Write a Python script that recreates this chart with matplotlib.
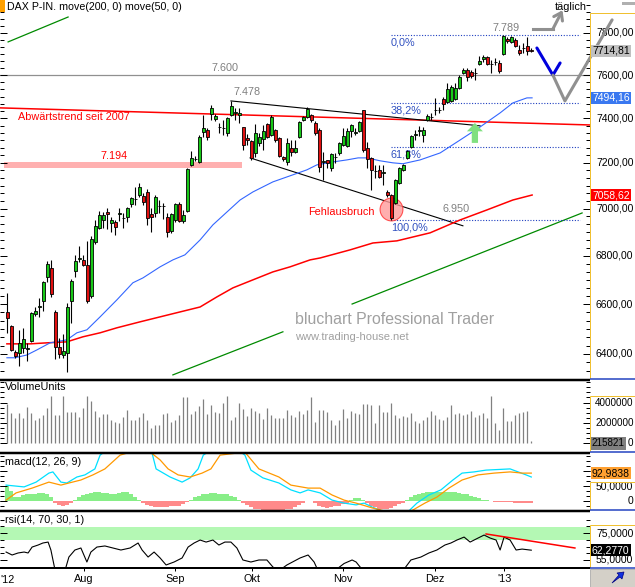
import numpy as np
import matplotlib
matplotlib.use("Agg")
import matplotlib.pyplot as plt
from matplotlib.lines import Line2D
from matplotlib.patches import Rectangle, Polygon
from matplotlib.ticker import FixedLocator, NullFormatter
import matplotlib.transforms as mtransforms

plt.rcParams['font.family'] = ['Liberation Sans', 'DejaVu Sans']

# ---------------- data ----------------
opens = [6568, 6512, 6408, 6404, 6424, 6420, 6452, 6560, 6586, 6613,
         6712, 6748, 6568, 6428, 6396, 6404, 6613, 6736, 6784, 6782,
         6761, 6633, 6858, 6917, 6951, 6985, 6939, 6943, 6975, 6960,
         6964, 7020, 7040, 7059, 7055, 7072, 6977, 6981, 7010, 7012,
         6964, 6904, 6951, 7020, 6947, 6990, 7191, 7216, 7204, 7338,
         7347, 7421, 7397, 7360, 7355, 7334, 7416, 7425, 7416, 7361,
         7311, 7298, 7244, 7289, 7307, 7375, 7325, 7347, 7311, 7226,
         7204, 7267, 7249, 7316, 7393, 7407, 7416, 7380, 7347, 7204,
         7213, 7178, 7226, 7244, 7280, 7275, 7343, 7334, 7343, 7439,
         7267, 7222, 7164, 7169, 7156, 7072, 7059, 7024, 7112, 7169,
         7222, 7271, 7325, 7343, 7325, 7393, 7405, 7437, 7440, 7490,
         7476, 7480, 7490, 7540, 7610, 7624, 7614, 7610, 7652, 7676,
         7685, 7652, 7662, 7657, 7700, 7772, 7757, 7767, 7719, 7728,
         7738, 7720]
highs = [6646, 6516, 6416, 6496, 6504, 6444, 6568, 6588, 6625, 6695,
         6778, 6782, 6576, 6464, 6480, 6604, 6703, 6803, 6841, 6803,
         6862, 6883, 6951, 6990, 6985, 7003, 6964, 6951, 7003, 6981,
         7007, 7050, 7094, 7112, 7068, 7085, 7003, 7059, 7037, 7024,
         6981, 6981, 7024, 7028, 6994, 7178, 7253, 7231, 7325, 7416,
         7357, 7462, 7421, 7380, 7393, 7407, 7478, 7448, 7448, 7361,
         7329, 7302, 7375, 7334, 7370, 7380, 7416, 7352, 7316, 7231,
         7311, 7302, 7302, 7388, 7411, 7453, 7421, 7388, 7357, 7249,
         7213, 7244, 7244, 7293, 7357, 7357, 7375, 7357, 7388, 7439,
         7293, 7226, 7191, 7191, 7191, 7081, 7063, 7129, 7182, 7196,
         7257, 7325, 7347, 7366, 7361, 7421, 7425, 7494, 7453, 7499,
         7564, 7554, 7564, 7600, 7633, 7633, 7624, 7633, 7690, 7695,
         7690, 7671, 7680, 7671, 7789, 7781, 7785, 7776, 7743, 7752,
         7781, 7728]
lows = [6484, 6412, 6385, 6353, 6404, 6373, 6448, 6552, 6548, 6572,
        6691, 6629, 6381, 6385, 6385, 6330, 6524, 6712, 6774, 6757,
        6604, 6625, 6849, 6913, 6917, 6913, 6900, 6887, 6947, 6917,
        6943, 7007, 7016, 7050, 7016, 6930, 6900, 6964, 6981, 6956,
        6879, 6896, 6943, 6943, 6939, 6985, 7187, 7209, 7200, 7316,
        7302, 7393, 7388, 7334, 7325, 7320, 7411, 7393, 7380, 7257,
        7280, 7213, 7226, 7275, 7257, 7311, 7320, 7293, 7226, 7209,
        7191, 7231, 7244, 7311, 7388, 7402, 7384, 7325, 7160, 7125,
        7178, 7165, 7200, 7235, 7275, 7271, 7316, 7325, 7338, 7249,
        7178, 7081, 7134, 7134, 7103, 7050, 6951, 7020, 7107, 7165,
        7218, 7266, 7302, 7320, 7293, 7388, 7393, 7416, 7425, 7439,
        7471, 7476, 7485, 7536, 7605, 7573, 7587, 7577, 7647, 7662,
        7647, 7610, 7647, 7610, 7695, 7752, 7752, 7733, 7695, 7704,
        7695, 7709]
closes = [6544, 6416, 6392, 6444, 6460, 6422, 6564, 6572, 6590, 6691,
          6765, 6642, 6428, 6400, 6412, 6588, 6695, 6778, 6788, 6761,
          6613, 6870, 6926, 6972, 6972, 6977, 6951, 6921, 6979, 6958,
          7003, 7046, 7042, 7094, 7028, 6960, 6964, 7050, 7012, 7010,
          6900, 6977, 7020, 6947, 6972, 7173, 7222, 7218, 7316, 7357,
          7316, 7448, 7411, 7362, 7358, 7402, 7457, 7427, 7425, 7280,
          7302, 7222, 7334, 7316, 7343, 7316, 7407, 7302, 7231, 7218,
          7289, 7249, 7267, 7384, 7407, 7443, 7393, 7334, 7182, 7206,
          7200, 7240, 7228, 7289, 7320, 7343, 7370, 7336, 7384, 7257,
          7218, 7169, 7166, 7138, 7158, 7059, 6960, 7125, 7178, 7191,
          7253, 7320, 7329, 7345, 7347, 7411, 7408, 7440, 7437, 7467,
          7536, 7545, 7540, 7591, 7624, 7591, 7596, 7608, 7666, 7685,
          7652, 7650, 7660, 7619, 7786, 7762, 7781, 7738, 7704, 7726,
          7714, 7714.81]

# moving averages (index, value)
ma50_x = [-0.1, 1.9, 4.9, 7.4, 10.7, 14.9, 17.4, 19.9, 23.2, 27.4, 31.4, 33.9, 38.2,
          41.4, 44.4, 48.2, 51.4, 54.9, 58.2, 61.4, 66.4, 71.4, 74.9, 77.4, 81.4,
          84.9, 87.7, 89.9, 93.2, 96.4, 98.9, 103.2, 108.2, 113.2, 118.2, 123.2,
          126.4, 129.9, 131.2]
ma50_y = [6385, 6385, 6396, 6416, 6444, 6456, 6484, 6496, 6548, 6617, 6687, 6707, 6753,
          6782, 6803, 6866, 6930, 6985, 7037, 7072, 7116, 7147, 7169, 7191, 7204,
          7213, 7222, 7222, 7209, 7200, 7196, 7213, 7244, 7302, 7361, 7425,
          7471, 7494, 7494.16]
ma200_x = [-0.1, 5.7, 9.9, 14.9, 18.9, 23.2, 27.4, 33.2, 38.2, 43.2, 48.2, 52.4, 56.4,
           61.4, 66.4, 70.7, 75.7, 78.2, 85.7, 91.4, 97.4, 105.7, 113.2, 119.9,
           126.4, 131.2]
ma200_y = [6440, 6440, 6444, 6448, 6468, 6484, 6504, 6528, 6548, 6568, 6588, 6629, 6666,
           6699, 6732, 6753, 6782, 6790, 6824, 6853, 6862, 6896, 6951, 6994,
           7037, 7058.62]

volume_m = [3.9, 3.0, 2.5, 3.0, 2.5, 3.6, 3.0, 2.3, 2.5, 2.75,
            3.5, 4.6, 2.8, 2.75, 4.6, 3.1, 3.05, 3.1, 2.6, 3.5,
            4.6, 4.1, 3.2, 2.6, 2.9, 2.9, 2.3, 2.1, 2.0, 2.6,
            3.3, 2.3, 2.3, 2.6, 3.0, 2.3, 1.5, 1.8, 1.8, 2.9,
            3.0, 2.1, 2.3, 2.75, 4.5, 4.5, 2.9, 3.2, 3.7, 4.3,
            2.9, 3.8, 3.05, 3.0, 4.0, 4.6, 2.3, 2.6, 4.0, 3.4,
            2.7, 3.5, 3.2, 3.0, 2.4, 3.5, 2.8, 2.5, 2.5, 2.5, 3.3,
            2.8, 2.6, 3.2, 2.9, 3.3, 4.5, 2.1, 3.3, 3.3, 3.05,
            2.3, 1.8, 2.3, 3.4, 2.5, 3.2, 3.0, 2.9, 3.9, 3.9,
            3.8, 2.0, 3.8, 3.05, 3.05, 4.0, 2.8, 2.5, 2.65, 2.6,
            3.0, 2.2, 2.0, 2.3, 2.6, 3.2, 2.75, 2.4, 2.3, 2.6, 3.8,
            2.9, 3.0, 2.8, 2.9, 3.2, 2.6, 2.75, 3.0, 2.5, 4.6,
            2.0, 1.3, 3.5, 2.2, 2.2, 2.8, 3.0, 3.1, 3.15, 0.215821]

macd_x = [-0.3, 4.2, 7.2, 10.4, 11.4, 13.4, 14.9, 17.4, 19.4, 21.9,
          23.2, 28, 35.7, 37.2, 40.7, 43.7, 45.7, 47.7, 49, 54.4,
          59.4, 60.9, 63.9, 67.9, 70.9, 73.2, 75.2, 78.2, 81.2, 84.2,
          87.2, 89.2, 91.2, 94.4, 98.2, 100.4, 102.4, 105.4, 108.4, 111.4,
          113.7, 116.7, 119.7, 125.7, 129.7, 131]
macd_v = [53, 47, 63, 93, 97, 63, 60, 80, 87, 107,
          153, 200, 185, 107, 80, 63, 77, 107, 153, 200,
          153, 103, 77, 60, 37, 27, 37, 27, 3, -7,
          -13, -7, -20, -37, -57, -33, -7, 20, 37, 70,
          93, 97, 103, 107, 87, 80]
signal_x = [-0.3, 2.2, 6.2, 10.4, 13.4, 15.4, 18.4, 21.4, 24.4, 28.2,
            34.4, 38.2, 40.2, 42.7, 45.7, 48.7, 50.9, 53.2, 59.4, 62.9,
            67.9, 70.9, 75.2, 78.2, 81.2, 84.2, 87.2, 91.2, 95.4, 98.2,
            101.4, 104.4, 107.4, 110.4, 113.7, 117.7, 121.7, 125.7, 128.7, 131]
signal_v = [3, 27, 43, 63, 53, 60, 70, 87, 107, 153,
            177, 137, 107, 87, 80, 93, 107, 153, 163, 107,
            80, 53, 43, 43, 20, 3, -7, -23, -37, -47,
            -30, -7, 13, 43, 70, 87, 93, 97, 93, 92.9838]
macd_hist = [50, 35, 15, 12, 20, 23, 25, 25, 27, 28, 25, 15,
             -5, -13, -15, -12, -5,
             5, 12, 20, 25, 28, 30, 30, 28, 27, 25, 25, 27, 30, 30, 25, 15, 5,
             -5, -12, -18, -20, -20, -20, -20, -18, -18, -15, -10, -3,
             5, 12, 18, 22, 25, 27, 27, 25, 25, 22, 18, 12, 5,
             -5, -12, -20, -25, -28, -30, -30, -30, -30, -30, -30, -28, -25, -20, -12, -5,
             1, -1,
             -8, -15, -20, -22, -20, -18, -15, -10, -5,
             5, 10, 10, 5,
             -8, -15, -20, -25, -25, -25, -22, -18, -10, -5,
             5, 12, 20, 25, 28, 30, 30, 30, 30, 30, 30, 30, 30, 28, 25, 22, 18, 15, 10, 5, 3, 1,
             -2, -3, -3, -2, -3, -5, -7, -8, -8, -7]

rsi_x = [-0.3, 1.2, 2.7, 4.2, 5.2, 6.2, 7.7, 8.9, 10.2, 10.9,
         11.9, 14.4, 15.4, 16.9, 18.4, 19.9, 20.9, 22.4, 24.4, 26.4,
         28.4, 30.7, 32.7, 33.7, 35.2, 36.7, 38.2, 39.7, 41.7, 43.7,
         45.2, 46.7, 48.2, 49.7, 51.4, 52.9, 54.4, 55.9, 57.4, 58.9,
         60.9, 62.9, 64.9, 66.4, 67.9, 69.9, 73.2, 75.2, 76.7, 77.7,
         80.7, 82.7, 84.2, 86.2, 87.2, 88.2, 90.2, 95.7, 99.4, 100.9,
         103.4, 105.4, 107.4, 109.4, 110.9, 112.4, 114.2, 115.7, 117.7, 119.2,
         120.7, 122.2, 123.2, 124.2, 125.7, 127.2, 128.7, 131]
rsi_v = [60.9, 58.7, 60.2, 60.9, 60.2, 64.6, 66.1, 67.6, 68.3, 62.4,
         48, 47, 57.2, 62.4, 63.9, 53.5, 60.9, 64.6, 65.4, 63.9,
         62.4, 63.9, 67.6, 62.4, 57.2, 60.9, 56.5, 51.3, 53.5, 56.5,
         64.6, 67.6, 69.8, 68.3, 69.8, 66.1, 68.3, 68.3, 63.9, 55,
         53.5, 55, 55, 49.8, 47, 51.3, 56.5, 58.7, 53.5, 47,
         46, 49, 52.4, 55, 53.5, 49.8, 45, 42, 49, 55,
         57.2, 60.2, 62.4, 66.1, 67.6, 69.8, 72, 68.3, 71.3, 73.5,
         71.3, 69.8, 62.4, 72, 69.8, 62.4, 63.1, 62.277]

price_ticks = [6400, 6600, 6800, 7000, 7200, 7400, 7600, 7800]
month_labels = ["Aug", "Sep", "Okt", "Nov", "Dez", "'13"]
month_pos = [19.2, 41.9, 61.2, 83.9, 106.9, 124.2]

fib_high, fib_low = 7789, 6950
fib_pcts = [0.0, 38.2, 61.8, 100.0]

# ---------------- layout helpers ----------------
W, H = 635, 587
PLOT_R = 590
FS = 7.8
RFS = 7.5
XLIM = (-1.825, 145.675)

fig = plt.figure(figsize=(W / 100, H / 100), dpi=100)
fig.patch.set_facecolor('white')


def axes_px(top, bottom):
    return fig.add_axes([0, 1 - bottom / H, PLOT_R / W, (bottom - top) / H])


def fline(x0, y0, x1, y1, color, lw):
    fig.add_artist(Line2D([x0 / W, x1 / W], [1 - y0 / H, 1 - y1 / H], color=color,
                          lw=lw * 0.72, solid_capstyle='butt'))


def ftext(x, y, s, **kw):
    fig.text(x / W, 1 - y / H, s, **kw)


def style_ax(ax, ylim, major, minor, log=False):
    if log:
        ax.set_yscale('log')
    ax.set_xlim(*XLIM)
    ax.set_ylim(*ylim)
    for s in ax.spines.values():
        s.set_visible(False)
    ax.set_xticks([])
    ax.xaxis.set_minor_locator(FixedLocator([]))
    ax.yaxis.set_major_locator(FixedLocator(major))
    ax.yaxis.set_minor_locator(FixedLocator(minor))
    ax.yaxis.set_major_formatter(NullFormatter())
    ax.yaxis.set_minor_formatter(NullFormatter())
    ax.tick_params(axis='y', which='both', direction='in', left=True, right=True,
                   color='black', width=0.72)
    ax.tick_params(axis='y', which='major', length=5)
    ax.tick_params(axis='y', which='minor', length=3)
    ax.patch.set_alpha(0)


def rlabel(ax, v, s, box=None, tc='black', x=596, fs=RFS):
    tr = mtransforms.blended_transform_factory(ax.transAxes, ax.transData)
    if box is None:
        ax.text(x / PLOT_R, v, s, transform=tr, ha='left', va='center', fontsize=fs,
                color=tc, clip_on=False)
    else:
        ax.text(592 / PLOT_R, v, s, transform=tr, ha='left', va='center', fontsize=fs,
                color=tc, clip_on=False, zorder=10,
                bbox=dict(boxstyle='square,pad=0.12', fc=box, ec='none'))


def fmt(v, d):
    return f"{v:.{d}f}".replace('.', ',')


idx = np.arange(len(opens))
o, h, l, c = (np.array(a, float) for a in (opens, highs, lows, closes))

# ---------------- main price panel ----------------
ax = axes_px(0, 379)
minor_p = list(np.arange(6300, 7960, 200 / 6))
style_ax(ax, (6302, 7960), price_ticks, minor_p, log=True)

# horizontal 7600 line
ax.axhline(7600, color='#909090', lw=0.9, zorder=1)
ax.text(54.4, 7600 * 1.0015, "7.600", color='#808080', fontsize=FS, ha='center', va='bottom')

# 7194 zone
ax.add_patch(Rectangle((-0.8, 7177), 59.5, 27, fc='#ffb0b0', ec='none', zorder=1))
ax.text(26.7, 7206, "7.194", color='#ff0000', fontsize=FS, ha='center', va='bottom')

# long-term downtrend line
ax.plot([XLIM[0], XLIM[1]], [7448, 7370], color='#ff0000', lw=1.1, zorder=2)
ax.text(2.7, 7406, "Abwärtstrend seit 2007", color='#ff0000', fontsize=FS, ha='left', va='center')

# channel lines (green)
for (x0, y0, x1, y1) in [(0.2, 7757, 15.2, 7877), (41.4, 6318, 68.9, 6488), (86.2, 6600, 143.7, 6981)]:
    ax.plot([x0, x1], [y0, y1], color='#008a00', lw=0.9, zorder=2)

# triangle lines
ax.plot([55.9, 118.2], [7480, 7366], color='black', lw=0.8, zorder=2)
ax.plot([60.7, 113.9], [7222, 6926], color='black', lw=0.8, zorder=2)
ax.text(56.6, 7497, "7.478", color='#808080', fontsize=FS, ha='left', va='bottom')

# fibonacci lines
for p in fib_pcts:
    lvl = fib_high - p / 100 * (fib_high - fib_low)
    ax.plot([95.9, 143.2], [lvl, lvl], color='#2040c0', lw=0.8, ls=(0, (1, 1.5)), zorder=2)
    ax.text(95.9, lvl * 0.9985, fmt(p, 1) + "%", color='#3050c0', fontsize=FS,
            ha='left', va='top')
ax.text(121.4, 7789 * 1.0012, "7.789", color='#808080', fontsize=FS, ha='left', va='bottom')
ax.text(108.7, 6950 * 1.004, "6.950", color='#808080', fontsize=FS, ha='left', va='bottom')

# Fehlausbruch circle
ax.scatter([95.8], [7000], s=270, marker='o', facecolor='#ff9a9a', edgecolor='#ff3030',
           linewidth=0.8, alpha=0.8, zorder=2)
ax.text(91.9, 6985, "Fehlausbruch", color='#ff0000', fontsize=FS, ha='right', va='center')

# moving averages
ax.plot(ma200_x, ma200_y, color='#ff0000', lw=1.1, zorder=2)
ax.plot(ma50_x, ma50_y, color='#3366ff', lw=0.8, zorder=2)

# candles
ax.vlines(idx, l, h, color='black', lw=0.8, zorder=3)
body_col = np.where(c > o + 1, '#18c818', np.where(c < o - 1, '#e01010', 'black'))
ax.bar(idx, np.maximum(np.abs(c - o), 0.3), bottom=np.minimum(o, c), width=0.75,
       color=body_col, edgecolor='black', linewidth=0.6, zorder=4)

# green arrow
ax.annotate('', xy=(116.9, 7379), xytext=(116.9, 7289),
            arrowprops=dict(arrowstyle='simple,head_length=0.6,head_width=1.15,tail_width=0.45',
                            fc='#80e080', ec='none', shrinkA=0, shrinkB=0), zorder=5)

# hand-drawn projections
ax.plot([132.4, 136.4, 138.2], [7728, 7600, 7657], color='#0000dd', lw=2.2, zorder=6,
        solid_capstyle='round', clip_on=False)
ax.plot([136.4, 139.4, 151.2], [7600, 7480, 7863], color='#909090', lw=2.2, zorder=6,
        solid_capstyle='round', clip_on=False)
ax.plot([131.4, 136.4], [7819, 7819], color='#909090', lw=2.2, zorder=6, clip_on=False)
ax.annotate('', xy=(138.8, 7910), xytext=(136.4, 7819), annotation_clip=False,
            arrowprops=dict(arrowstyle='->,head_length=0.5,head_width=0.35', color='#909090',
                            lw=2.2, shrinkA=0, shrinkB=0))
ftext(555, 7, "täglich", fontsize=FS, ha='left', va='center')

# watermark
ftext(295, 320, "bluchart Professional Trader", fontsize=11.4, color='#a0a0a0', ha='left', va='center')
ftext(295, 337, "www.trading-house.net", fontsize=8, color='#a0a0a0', ha='left', va='center')

# title
ftext(7, 7, "DAX P-IN. move(200, 0) move(50, 0)", fontsize=7.7, ha='left', va='center')
fig.add_artist(Rectangle((0, 1 - 12 / H), 5 / W, 12 / H, transform=fig.transFigure,
                         fc='#ffa000', ec='none'))

# right axis labels
for v in price_ticks:
    rlabel(ax, v, fmt(v, 2))
rlabel(ax, closes[-1], fmt(closes[-1], 2), box='#c0c0c0')
rlabel(ax, ma50_y[-1], fmt(ma50_y[-1], 2), box='#3a78f0', tc='white')
rlabel(ax, ma200_y[-1], fmt(ma200_y[-1], 2), box='#ff0000', tc='white')

# ---------------- volume panel ----------------
axv = axes_px(381, 452)
style_ax(axv, (-0.83, 6.1), [0, 2, 4], list(np.arange(0, 6.01, 0.5)))
axv.vlines(idx, 0, volume_m, color='#808080', lw=0.9)
ftext(5, 387, "VolumeUnits", fontsize=FS, ha='left', va='center')
rlabel(axv, 4, "4000000", x=595, fs=7.1)
rlabel(axv, 2, "2000000", x=595, fs=7.1)
rlabel(axv, 0, "0", x=628, fs=7.1)
rlabel(axv, 0, f"{int(round(volume_m[-1] * 1e6))}", box='#808080', fs=7.1)

# ---------------- MACD panel ----------------
axm = axes_px(454, 510)
style_ax(axm, (-30, 156.7), [0, 50, 100], list(np.arange(-16.67, 156, 50 / 3)))
hist = np.array(macd_hist, float)
axm.bar(idx, hist, width=1.0, color=np.where(hist >= 0, '#88ee88', '#ff8a8a'), linewidth=0)
axm.plot(macd_x, macd_v, color='#00e0ff', lw=0.9)
axm.plot(signal_x, signal_v, color='#ff9900', lw=0.9)
ftext(5, 462, "macd(12, 26, 9)", fontsize=FS, ha='left', va='center')
rlabel(axm, 50, "50,0000")
rlabel(axm, 0, "0", x=628)
rlabel(axm, signal_v[-1], fmt(signal_v[-1], 4), box='#ffa030')

# ---------------- RSI panel ----------------
axr = axes_px(512, 567)
style_ax(axr, (49.8, 90.6), [55, 75], list(np.arange(50, 90, 5)))
axr.axhspan(70, 79.5, color='#b4f8b4', lw=0, zorder=0)
axr.plot(rsi_x, rsi_v, color='black', lw=0.8)
axr.plot([119.7, 141.9], [74.3, 63.9], color='#ff0000', lw=1.1)
ftext(5, 520, "rsi(14, 70, 30, 1)", fontsize=FS, ha='left', va='center')
rlabel(axr, 75, "75,0000")
rlabel(axr, 55, "55,0000")
rlabel(axr, rsi_v[-1], fmt(rsi_v[-1], 4), box='black', tc='white')

# x-axis
axr.set_xticks(month_pos)
axr.set_xticklabels(month_labels, fontsize=FS)
axr.tick_params(axis='x', which='major', direction='out', length=3, width=0.72, pad=2,
                bottom=True)
ftext(0, 580, "'12", fontsize=FS, ha='left', va='center')

# separators and frames
for y in (380, 453, 511):
    fline(0, y, PLOT_R, y, 'black', 2.5)
fline(0, 568, PLOT_R, 568, 'black', 2)
for top, bot in ((13, 378), (396, 451), (482, 509), (525, 567)):
    fline(PLOT_R, top, PLOT_R, bot, '#f0c030', 1)
    fline(PLOT_R, top, W, top, '#f0c030', 1)
    fline(PLOT_R, bot + 0.5, W, bot + 0.5, '#2040c0', 1.5)

# bottom-right button
fig.add_artist(Rectangle((PLOT_R / W, 0), (W - PLOT_R) / W, (587 - 569) / H,
                         transform=fig.transFigure, fc='#d4d0c8', ec='#a0a0a0', lw=0.5))
fig.add_artist(Polygon([[612 / W, 1 - 583 / H], [619 / W, 1 - 575 / H], [617 / W, 1 - 573 / H],
                        [624 / W, 1 - 572 / H], [622 / W, 1 - 579 / H], [620 / W, 1 - 577 / H]],
                       closed=True, transform=fig.transFigure, fc='#1030e0', ec='#000080', lw=0.5))
fig.add_artist(Rectangle((622 / W, 1 - 5 / H), 13 / W, 3 / H, transform=fig.transFigure,
                         fc='#b0b0b0', ec='none'))

fig.savefig("out.png", dpi=100, facecolor='white')
